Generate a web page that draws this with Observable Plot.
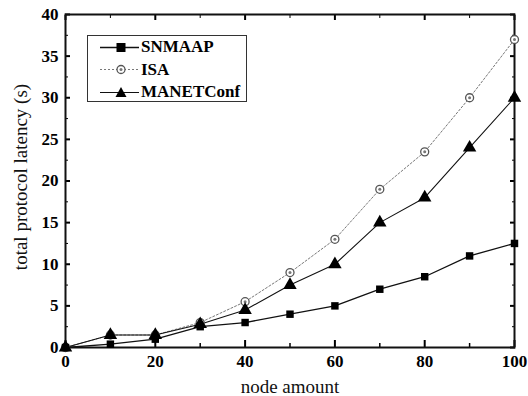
<!DOCTYPE html>
<html><head><meta charset="utf-8">
<script src="https://cdn.jsdelivr.net/npm/d3@7"></script>
<script src="https://cdn.jsdelivr.net/npm/@observablehq/plot@0.6"></script>
<style>
body{margin:0;background:#fff;}
#wrap{position:relative;width:528px;height:396px;font-family:"Liberation Serif","Times New Roman",serif;}
#legend{position:absolute;left:87px;top:35px;width:160px;height:67px;border:1px solid #333;background:#fff;box-sizing:border-box;}
#legend .row{position:absolute;left:0;height:20px;display:flex;align-items:center;}
#legend span{font-size:17px;font-weight:bold;margin-left:1px;}
</style></head><body>
<div id="wrap"></div>
<script>
const nodes = [0,10,20,30,40,50,60,70,80,90,100];
const snmaap = [0,0.4,1,2.5,3,4,5,7,8.5,11,12.5];
const isa = [0,1.5,1.5,3,5.5,9,13,19,23.5,30,37];
const manet = [0,1.5,1.5,2.8,4.5,7.5,10,15,18,24,30];
const seriesNames = ["SNMAAP","ISA","MANETConf"];
const xTicks = [0,20,40,60,80,100];
const xMinor = [10,30,50,70,90];
const yTicks = [0,5,10,15,20,25,30,35,40];
const yMinor = [2.5,7.5,12.5,17.5,22.5,27.5,32.5,37.5];

const mk = (vals) => nodes.map((n,i)=>({x:n,y:vals[i]}));
const dS = mk(snmaap), dI = mk(isa), dM = mk(manet);

const chart = Plot.plot({
  width:528, height:396,
  marginLeft:65, marginRight:14, marginTop:14, marginBottom:49,
  style:{fontFamily:"Liberation Serif, serif", background:"#fff"},
  x:{domain:[0,100]},
  y:{domain:[0,40]},
  marks:[
    Plot.axisX({anchor:"bottom", ticks:xTicks, tickSize:-7, tickPadding:14, fontSize:17, fontWeight:"bold", label:null, strokeWidth:2}),
    Plot.axisX({anchor:"bottom", ticks:xMinor, tickSize:-4, tickFormat:()=>"", label:null, strokeWidth:1.5}),
    Plot.axisX({anchor:"top", ticks:xTicks, tickSize:-5, tickFormat:()=>"", label:null, strokeWidth:2}),
    Plot.axisX({anchor:"top", ticks:xMinor, tickSize:-3, tickFormat:()=>"", label:null}),
    Plot.axisY({anchor:"left", ticks:yTicks, tickSize:-5, tickPadding:12, fontSize:17, fontWeight:"bold", label:null, strokeWidth:2}),
    Plot.axisY({anchor:"left", ticks:yMinor, tickSize:-3, tickFormat:()=>"", label:null}),
    Plot.axisY({anchor:"right", ticks:yTicks, tickSize:-5, tickFormat:()=>"", label:null, strokeWidth:2}),
    Plot.axisY({anchor:"right", ticks:yMinor, tickSize:-3, tickFormat:()=>"", label:null}),
    Plot.frame({stroke:"#111", strokeWidth:2}),
    Plot.text(["node amount"], {frameAnchor:"bottom", dy:45, fontSize:19, fill:"#111"}),
    Plot.text(["total protocol latency (s)"], {frameAnchor:"left", dx:-45, dy:-4, rotate:-90, textAnchor:"middle", fontSize:19, fill:"#111"}),
    Plot.line(dI, {x:"x", y:"y", stroke:"#777", strokeWidth:1, strokeDasharray:"2,2"}),
    Plot.line(dM, {x:"x", y:"y", stroke:"#111", strokeWidth:1.1}),
    Plot.line(dS, {x:"x", y:"y", stroke:"#111", strokeWidth:1.3}),
    Plot.dot(dI, {x:"x", y:"y", r:4, fill:"#fff", stroke:"#555", strokeWidth:1.3}),
    Plot.dot(dI, {x:"x", y:"y", r:1.5, fill:"#777"}),
    Plot.dot(dM, {x:"x", y:"y", symbol:"triangle", r:5, fill:"#000"}),
    Plot.dot(dS, {x:"x", y:"y", symbol:"square", r:4.2, fill:"#000"})
  ]
});
const wrap = document.getElementById("wrap");
wrap.appendChild(chart);

const leg = document.createElement("div");
leg.id = "legend";
const styles = [
  {stroke:"#111", dash:"", w:1.5, sym:'<rect x="28.5" y="5" width="9" height="9" fill="#000"/>'},
  {stroke:"#777", dash:"2,2", w:1, sym:'<circle cx="33" cy="9.5" r="4" fill="#fff" stroke="#555" stroke-width="1.3"/><circle cx="33" cy="9.5" r="1.5" fill="#777"/>'},
  {stroke:"#111", dash:"", w:1.1, sym:'<path d="M33,4 L38.5,14 L27.5,14 Z" fill="#000"/>'}
];
seriesNames.forEach((name,i)=>{
  const row = document.createElement("div");
  row.className="row";
  row.style.top = (1+i*22.5)+"px";
  row.innerHTML = `<svg width="52" height="19"><line x1="12" y1="9.5" x2="51" y2="9.5" stroke="${styles[i].stroke}" stroke-width="${styles[i].w}" stroke-dasharray="${styles[i].dash}"/>${styles[i].sym}</svg><span>${name}</span>`;
  leg.appendChild(row);
});
wrap.appendChild(leg);
</script>
</body></html>
